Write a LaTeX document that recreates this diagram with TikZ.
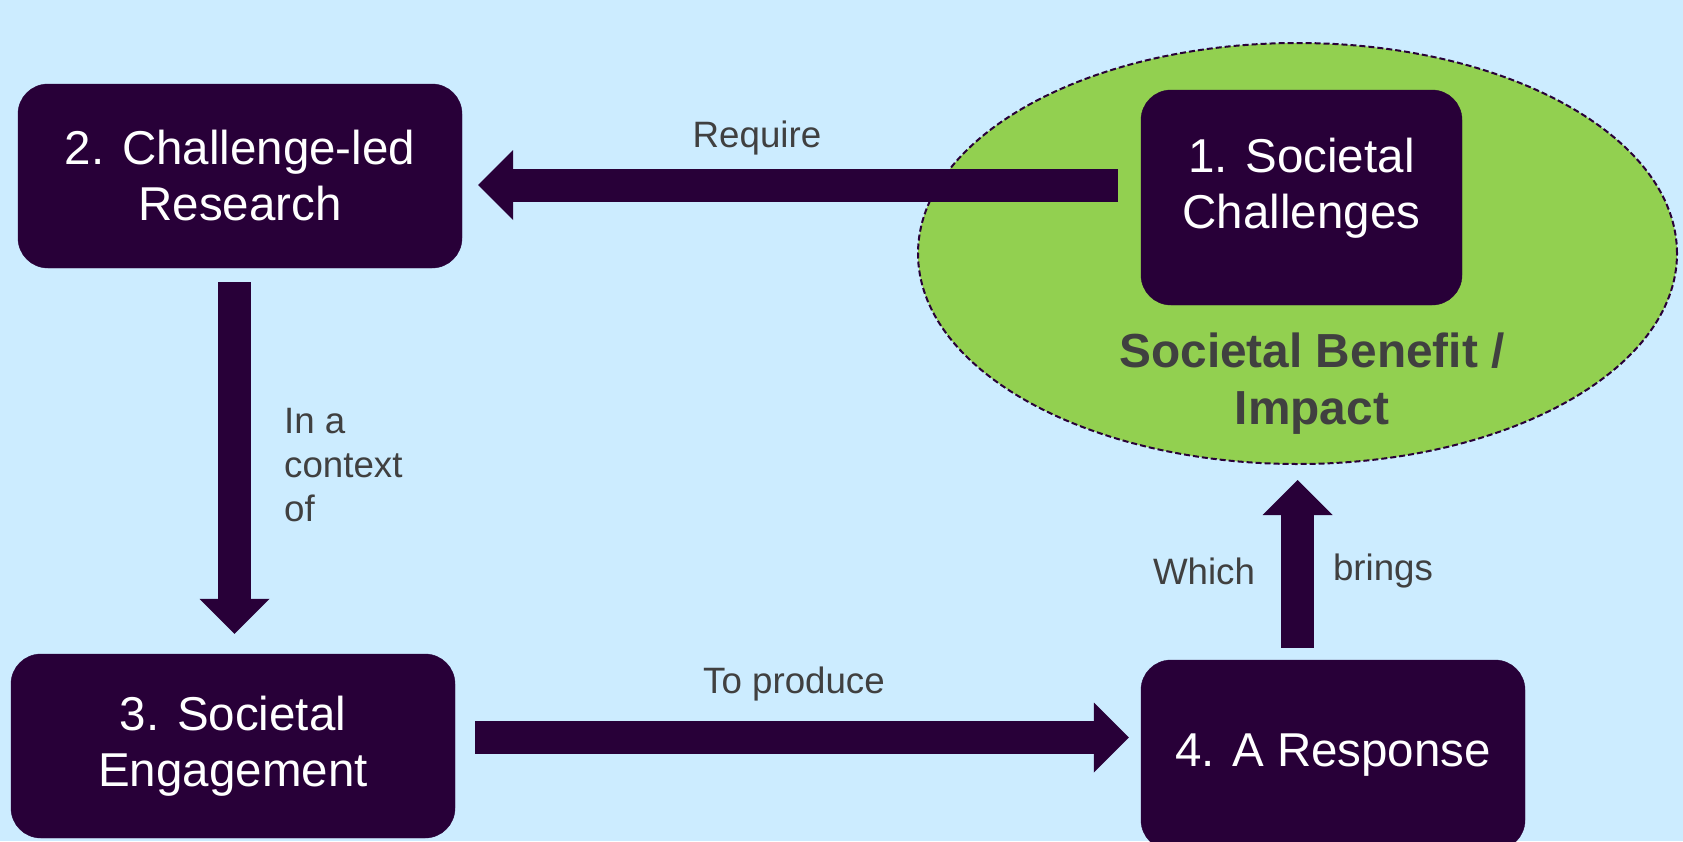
\documentclass[tikz,border=0pt]{standalone}
\usepackage{fontspec}
\setmainfont{Liberation Sans}
\usetikzlibrary{arrows.meta,calc,shapes.geometric}
\definecolor{bgc}{HTML}{CCECFF}
\definecolor{boxc}{HTML}{280038}
\definecolor{greenc}{HTML}{92D050}
\definecolor{labc}{HTML}{404040}
\begin{document}
\begin{tikzpicture}[x=1pt,y=-1pt,
  box/.style={draw=boxc, fill=boxc, rounded corners=30pt, text=white, align=center,
    font=\fontsize{47.5}{56}\selectfont, inner sep=0pt},
  boxtext/.style={text=white, align=center, font=\fontsize{47.5}{56}\selectfont, inner sep=0pt},
  lab/.style={text=labc, font=\fontsize{36.7}{44}\selectfont, inner sep=0pt},
  fat/.style={draw=boxc, line width=33pt, -{Triangle[length=35pt,width=70pt,line width=0pt]}}]
\fill[bgc] (0,0) rectangle (1683,841);
\clip (0,0) rectangle (1683,841);
\node[ellipse, draw=boxc, fill=greenc, dash pattern=on 6pt off 3pt, line width=2pt,
  minimum width=759pt, minimum height=421pt, inner sep=0pt] (ell) at (1297.5,253.5) {};
\node[text=labc, font=\bfseries\fontsize{47.8}{57}\selectfont, align=center, inner sep=0pt] (sb) at (1312,384) {Societal Benefit /\\Impact};
\node[box, minimum width=321pt, minimum height=215pt] (b1) at (1301.5,197.5) {};
\node[boxtext] (t1) at (1301.5,188) {1. Societal\\Challenges};
\node[box, minimum width=444pt, minimum height=184pt] (b2) at (240,176) {2. Challenge-led\\Research};
\node[box, minimum width=444pt, minimum height=184pt] (b3) at (233,746) {3. Societal\\Engagement};
\node[box, minimum width=384pt, minimum height=190pt] (b4) at (1333,755) {4. A Response};
\node[lab] (lreq) at (757,138) {Require};
\node[lab, align=left, anchor=west] (lctx) at (284,465) {In a\\context\\of};
\node[lab] (lprod) at (794,684) {To produce};
\node[lab] (lwh) at (1204,571) {Which};
\node[lab] (lbr) at (1383,571) {brings};
\draw[fat] ($(b1.west)+(-23,-12.5)$) -- ($(b2.east)+(16,9)$);
\draw[fat] ($(b2.south)+(-5.5,14)$) -- ($(b3.north)+(1.5,-20)$);
\draw[fat] ($(b3.east)+(20,-8.5)$) -- ($(b4.west)+(-12,-17.5)$);
\draw[fat] ($(b4.north)+(-35.5,-12)$) -- ($(ell.south)+(0,15)$);
\end{tikzpicture}
\end{document}
